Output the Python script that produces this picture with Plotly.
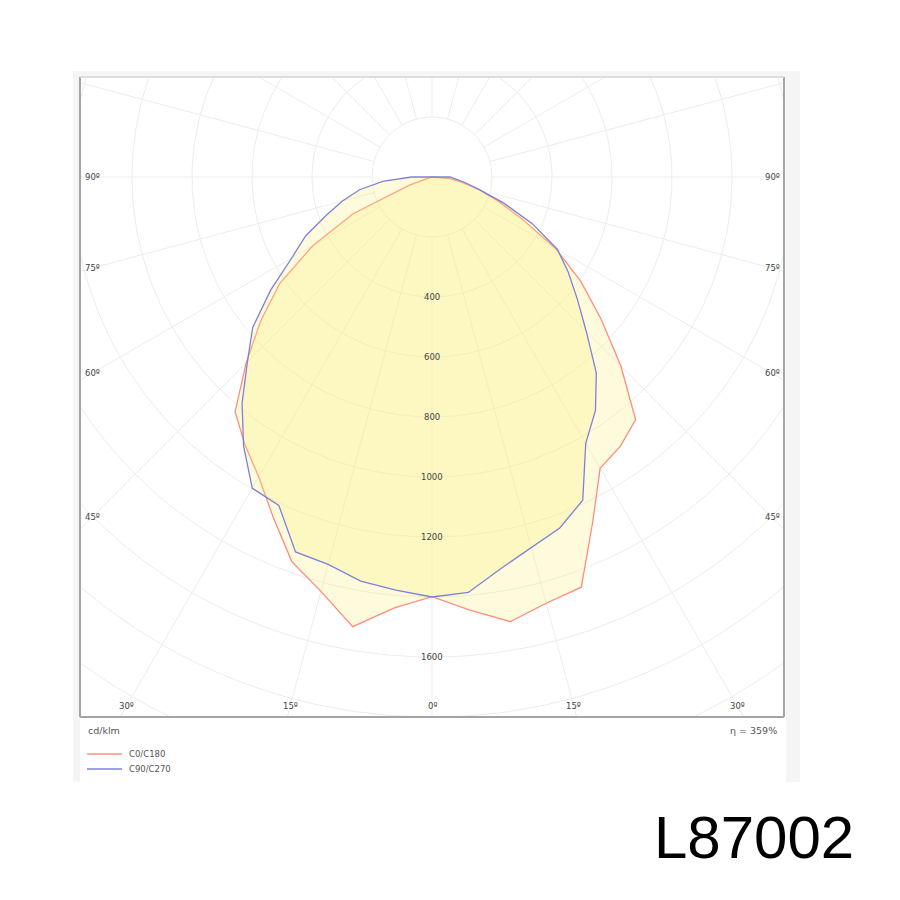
import numpy as np
import plotly.graph_objects as go

# ---------------- data (cd/klm) ----------------
gamma = [0, 5, 10, 15, 20, 25, 30, 35, 40, 45, 50, 55, 60, 65, 70, 75, 80, 85, 90]
c0 = [1399, 1449, 1505, 1471, 1455, 1268, 1121, 1095, 1056, 890, 735, 605, 475, 330, 235, 162, 100, 60, 0]
c180 = [1399, 1442, 1522, 1430, 1365, 1252, 1155, 1088, 1021, 876, 745, 620, 460, 290, 80, 10, 0, 0, 0]
c90 = [1399, 1390, 1325, 1280, 1245, 1189, 1025, 950, 852, 727, 632, 555, 483, 370, 255, 165, 115, 80, 60]
c270 = [1400, 1382, 1368, 1337, 1330, 1208, 1198, 1095, 985, 870, 780, 656, 540, 465, 376, 309, 245, 165, 68]

series_names = ["C0/C180", "C90/C270"]
series_colors = ["rgb(255,140,128)", "rgb(128,128,220)"]

radial_grid = list(range(200, 2601, 200))
radial_labels = [400, 600, 800, 1000, 1200, 1600]
spoke_angles = list(range(0, 360, 15))
side_label_angles = [90, 75, 60, 45]
bottom_label_angles = [30, 15, 0]
eta_text = "η = 359%"
unit_text = "cd/klm"
title_text = "L87002"

# ---------------- geometry helpers ----------------
XR = 1173.33
YR = (-1800, 333.33)


def px_x(p):
    return (p - 80) / 704.0


def px_y(p):
    return (717 - p) / 640.0


def plane_xy(right_vals, left_vals):
    g = np.radians(np.array(gamma, dtype=float))
    rv = np.array(right_vals, dtype=float)
    lv = np.array(left_vals, dtype=float)
    xl = -lv * np.sin(g)
    yl = -lv * np.cos(g)
    xr = rv * np.sin(g)
    yr = -rv * np.cos(g)
    xs = list(xl[::-1]) + list(xr[1:]) + [0.0, xl[-1]]
    ys = list(yl[::-1]) + list(yr[1:]) + [0.0, yl[-1]]
    return xs, ys


fig = go.Figure()

# grid circles
gx, gy = [], []
t = np.radians(np.arange(0, 361, 1))
for r in radial_grid:
    gx += list(r * np.sin(t)) + [None]
    gy += list(-r * np.cos(t)) + [None]
# spokes
for a in spoke_angles:
    ar = np.radians(a)
    gx += [200 * np.sin(ar), 2800 * np.sin(ar), None]
    gy += [-200 * np.cos(ar), -2800 * np.cos(ar), None]
fig.add_trace(go.Scatter(x=gx, y=gy, mode="lines",
                         line=dict(color="#ebeded", width=1),
                         hoverinfo="skip", showlegend=False))

planes = [(c0, c180), (c90, c270)]
for (rv, lv), name, col in zip(planes, series_names, series_colors):
    xs, ys = plane_xy(rv, lv)
    fig.add_trace(go.Scatter(x=xs, y=ys, mode="lines", name=name,
                             fill="toself", fillcolor="rgba(250,240,120,0.26)",
                             line=dict(color=col, width=1.3),
                             showlegend=False))

ann = []
tick_font = dict(family="DejaVu Sans", size=8.5, color="#444444")
for v in radial_labels:
    ann.append(dict(x=0, y=-v, xref="x", yref="y", text=str(v), showarrow=False,
                    font=tick_font, xanchor="center", yanchor="middle"))
xs_side = XR - 40
for a in side_label_angles:
    yv = -xs_side / np.tan(np.radians(a)) if a != 90 else 0.0
    for s in (-1, 1):
        ann.append(dict(x=s * xs_side, y=yv, xref="x", yref="y", text=f"{a}º",
                        showarrow=False, font=tick_font, xanchor="center", yanchor="middle"))
yb = -1763
for a in bottom_label_angles:
    xv = -yb * np.tan(np.radians(a))
    sides = (-1, 1) if a != 0 else (1,)
    for s in sides:
        ann.append(dict(x=s * xv, y=yb, xref="x", yref="y", text=f"{a}º",
                        showarrow=False, font=tick_font, xanchor="center", yanchor="middle"))

small_font = dict(family="DejaVu Sans", size=9.5, color="#555555")
ann.append(dict(x=px_x(86), y=px_y(730), xref="paper", yref="paper", text=unit_text,
                showarrow=False, font=small_font, xanchor="left", yanchor="middle"))
ann.append(dict(x=px_x(779), y=px_y(730), xref="paper", yref="paper", text=eta_text,
                showarrow=False, font=small_font, xanchor="right", yanchor="middle"))

shapes = []
# light outer band and white inner panel
shapes.append(dict(type="rect", xref="paper", yref="paper", x0=px_x(73), x1=px_x(800),
                   y0=px_y(782), y1=px_y(71), fillcolor="#f5f5f5", line=dict(width=0), layer="below"))
shapes.append(dict(type="rect", xref="paper", yref="paper", x0=px_x(80), x1=px_x(786),
                   y0=px_y(782), y1=px_y(77), fillcolor="#ffffff", line=dict(width=0), layer="below"))
# frame
frame_col = "#a4a4a4"
shapes.append(dict(type="line", xref="paper", yref="paper", x0=0, x1=0, y0=0, y1=1,
                   line=dict(color=frame_col, width=2)))
shapes.append(dict(type="line", xref="paper", yref="paper", x0=1, x1=1, y0=0, y1=1,
                   line=dict(color=frame_col, width=2)))
shapes.append(dict(type="line", xref="paper", yref="paper", x0=0, x1=1, y0=0, y1=0,
                   line=dict(color=frame_col, width=2)))
shapes.append(dict(type="line", xref="paper", yref="paper", x0=0, x1=1, y0=1, y1=1,
                   line=dict(color="#d4d4d4", width=1.5)))

# legend
leg_font = dict(family="DejaVu Sans", size=8.5, color="#555555")
for i, (name, col) in enumerate(zip(series_names, series_colors)):
    yy = 754 + 15 * i
    shapes.append(dict(type="line", xref="paper", yref="paper", x0=px_x(87), x1=px_x(122),
                       y0=px_y(yy), y1=px_y(yy), line=dict(color=col, width=1.3)))
    ann.append(dict(x=px_x(127), y=px_y(yy), xref="paper", yref="paper", text=name,
                    showarrow=False, font=leg_font, xanchor="left", yanchor="middle"))

ann.append(dict(x=px_x(754), y=px_y(837), xref="paper", yref="paper", text=title_text,
                showarrow=False, font=dict(family="Liberation Sans", size=60, color="#000000"),
                xanchor="center", yanchor="middle"))

# the page body has an 8px default margin, so the figure sits at (8, 8)
fig.update_layout(
    width=900, height=900, autosize=False,
    margin=dict(l=72, r=124, t=69, b=191, pad=0),
    paper_bgcolor="#ffffff", plot_bgcolor="rgba(0,0,0,0)",
    xaxis=dict(range=[-XR, XR], showgrid=False, zeroline=False, showticklabels=False,
               showline=False, fixedrange=True),
    yaxis=dict(range=list(YR), showgrid=False, zeroline=False, showticklabels=False,
               showline=False, fixedrange=True),
    shapes=shapes, annotations=ann, showlegend=False,
)

fig.write_html("out.html")
